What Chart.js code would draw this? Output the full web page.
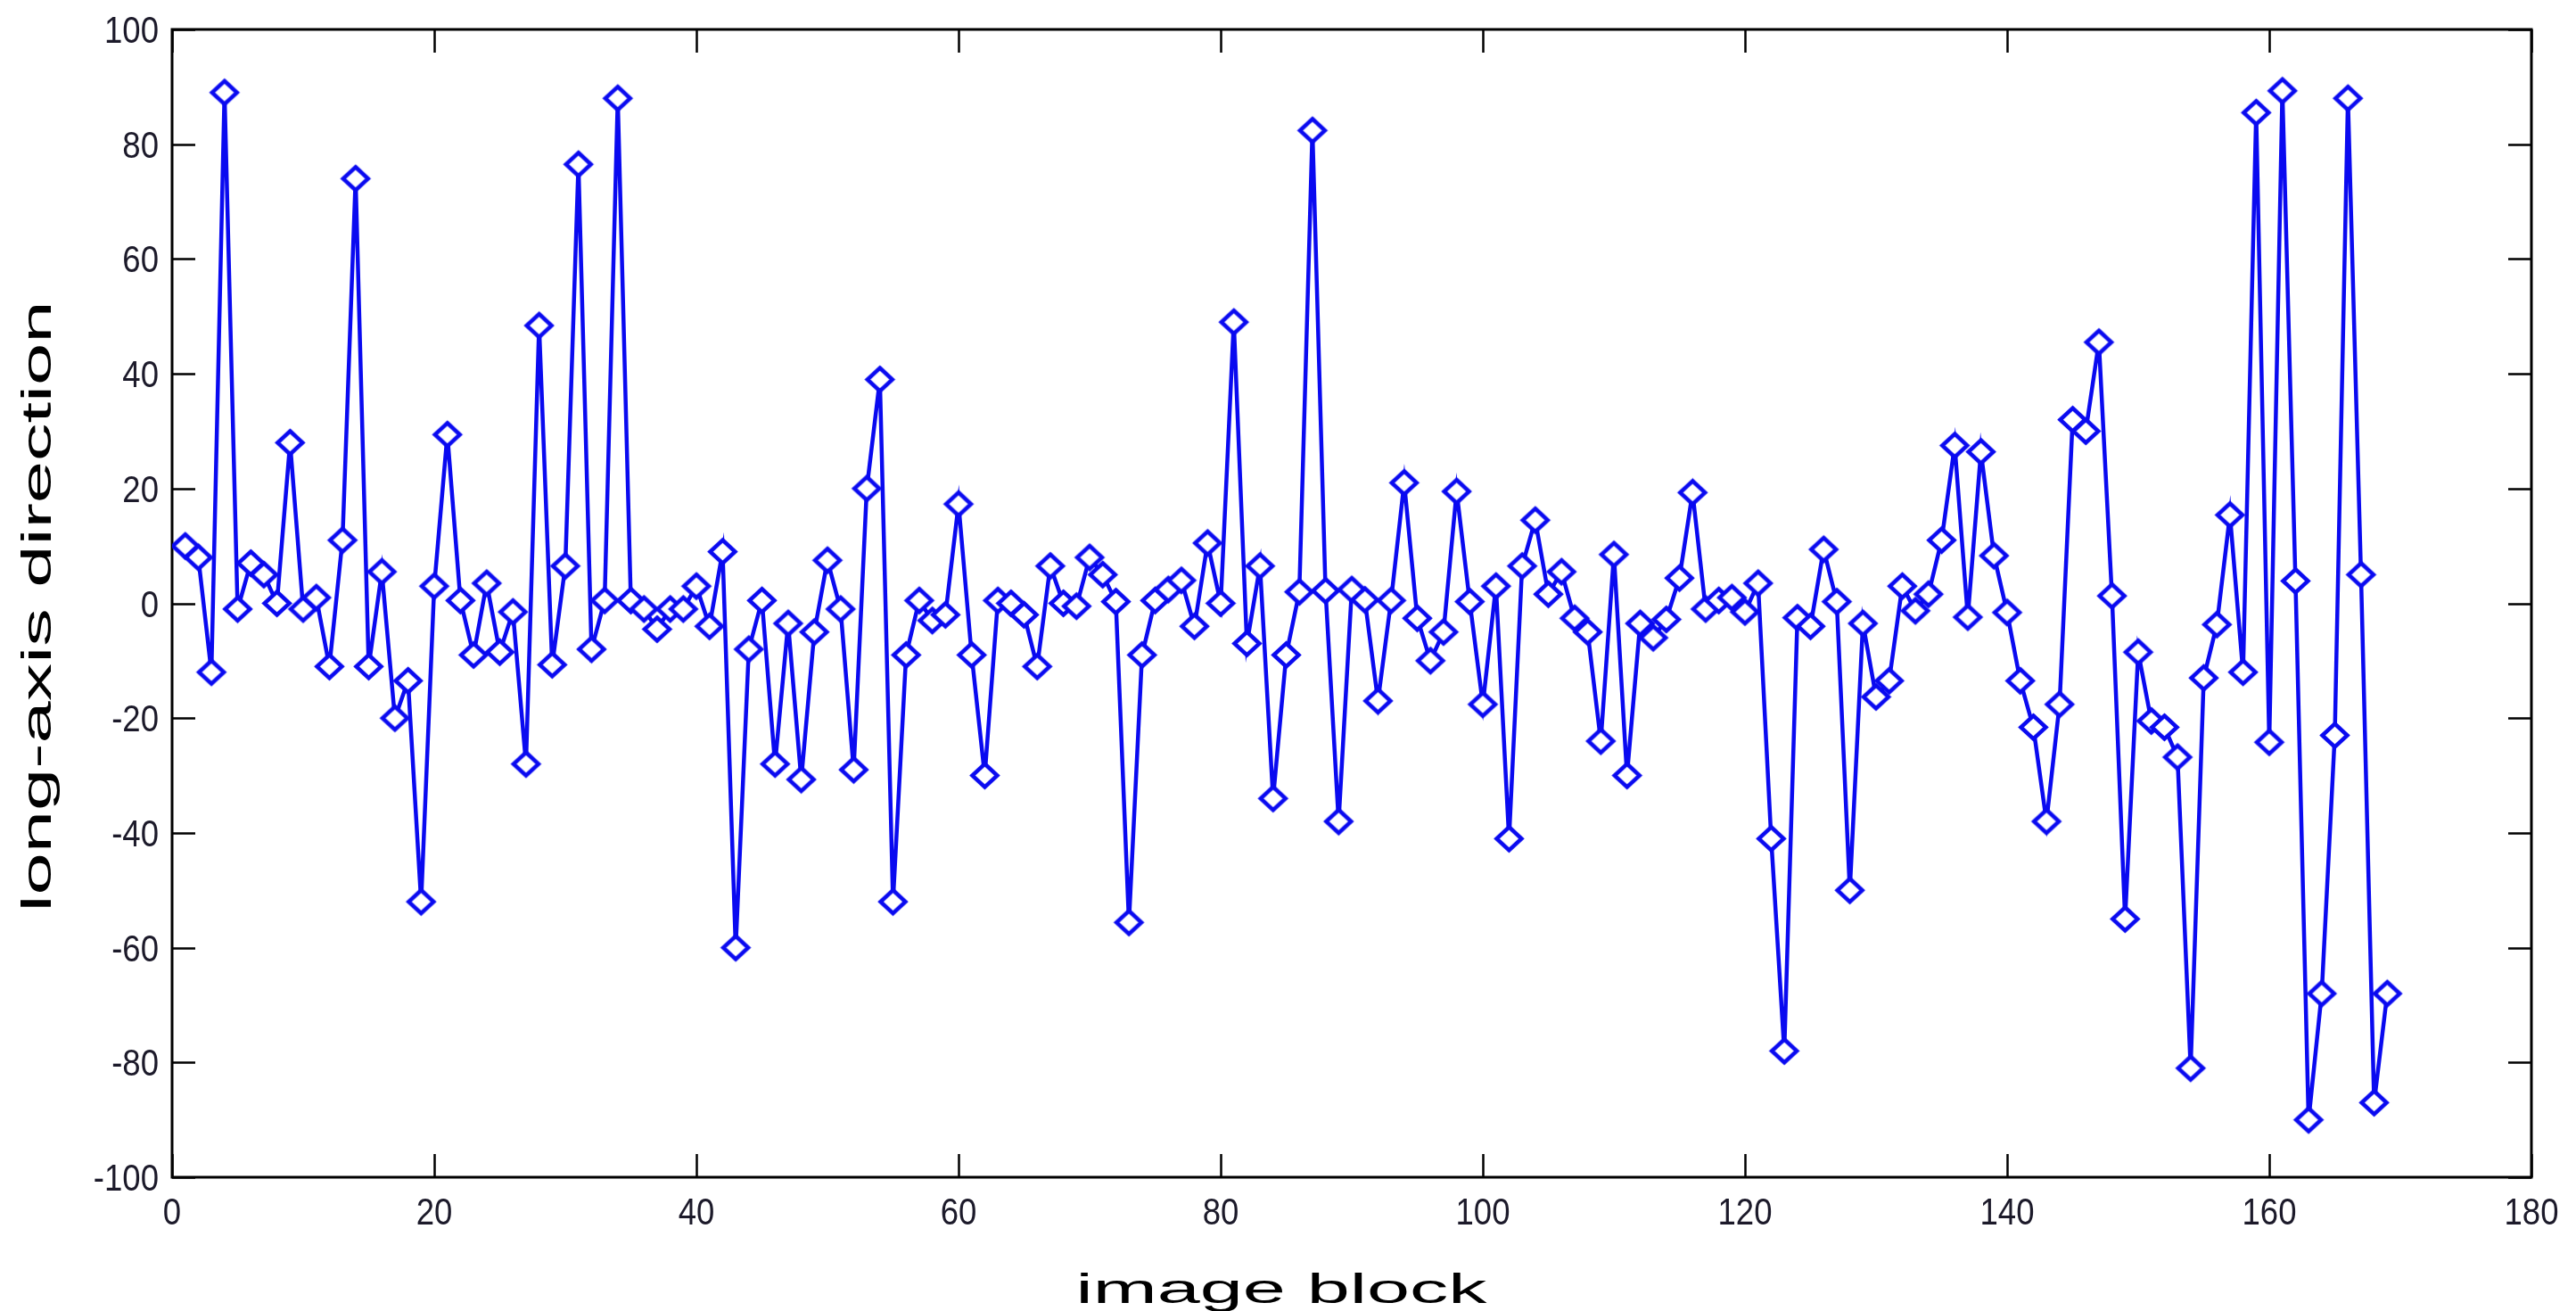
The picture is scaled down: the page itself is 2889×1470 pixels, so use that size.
<!DOCTYPE html>
<html><head><meta charset="utf-8">
<script src="https://cdn.jsdelivr.net/npm/chart.js@4.4.1/dist/chart.umd.min.js"></script>
<style>html,body{margin:0;padding:0;background:#fff;overflow:hidden}#wrap{width:2889px;height:1470px}</style>
</head><body><div id="wrap"><canvas id="c" width="2889" height="1470"></canvas></div>
<script>
// ---- data ----
const blockValues = [
  10, 8, -12, 89, -1, 7, 5, 0, 28, -1,
  1, -11, 11, 74, -11, 5.5, -20, -13.5, -52, 3,
  29.4, 0.5, -9, 3.5, -8.5, -1.5, -28, 48.4, -10.7, 6.5,
  76.5, -8, 0.5, 88, 0.5, -1, -4.5, -1, -1, 3,
  -4, 9, -60, -8, 0.5, -28, -3.5, -30.7, -5, 7.5,
  -1, -29, 20, 39, -52, -9, 0.5, -3, -2, 17.3,
  -9, -30, 0.5, 0, -2, -11, 6.5, 0, -0.5, 8,
  5, 0.3, -55.6, -9, 0.5, 2.4, 4, -4, 10.5, 0,
  49, -7, 6.5, -34, -9, 2, 82.4, 2.2, -38, 2.4,
  0.6, -17, 0.5, 21, -2.6, -10, -5, 19.5, 0.3, -17.6,
  3, -41, 6.5, 14.5, 1.6, 5.5, -2.6, -5, -24, 8.5,
  -30, -3.5, -6, -2.8, 4.4, 19.3, -1, 0.5, 1, -1.5,
  3.5, -41, -78, -2.5, -4, 9.4, 0.3, -50, -3.5, -16.3,
  -13.5, 3, -1.3, 1.6, 11, 27.5, -2.4, 26.4, 8.3, -1.6,
  -13.5, -21.6, -38, -17.6, 32, 30, 45.5, 1.3, -55, -8.5,
  -20.5, -21.6, -26.8, -81, -13, -3.7, 15.4, -12, 85.5, -24.2,
  89.3, 3.9, -90, -68, -23, 88, 5, -87, -68
];
const blockIndex = blockValues.map((_, i) => i + 1);   // image block numbers 1..169
const xTickValues = [0, 20, 40, 60, 80, 100, 120, 140, 160, 180];
const yTickValues = [-100, -80, -60, -40, -20, 0, 20, 40, 60, 80, 100];
const xTitleText = 'image block';
const yTitleText = 'long-axis direction';

// ---- styling ----
const BLUE = 'rgb(10,10,240)';
const TICK_COLOR = '#1c1a2a';
const TICK_FONT = '42px "Liberation Sans", Arial, sans-serif';
const TICK_SQUEEZE = 0.87;   // reference tick digits are narrow

function makeDiamond(w, h, lw, stroke) {
  const c = document.createElement('canvas');
  c.width = Math.ceil(w + lw * 2); c.height = Math.ceil(h + lw * 2);
  const g = c.getContext('2d');
  const cx = c.width / 2, cy = c.height / 2;
  g.beginPath();
  g.moveTo(cx, cy - h / 2); g.lineTo(cx + w / 2, cy);
  g.lineTo(cx, cy + h / 2); g.lineTo(cx - w / 2, cy); g.closePath();
  g.fillStyle = '#fff'; g.fill();
  g.lineWidth = lw; g.strokeStyle = stroke; g.lineJoin = 'miter'; g.stroke();
  return c;
}
const diamond = makeDiamond(28, 26, 4.5, BLUE);

const frame = {
  id: 'matlabFrame',
  beforeDatasetsDraw(chart) {
    const {ctx, chartArea: a, scales: {x, y}} = chart;
    ctx.save();
    ctx.strokeStyle = '#000';
    ctx.lineWidth = 2.5;
    const tl = 26;
    ctx.beginPath();
    x.ticks.forEach(t => {
      const px = Math.round(x.getPixelForValue(t.value)) + 0.5;
      ctx.moveTo(px, a.bottom); ctx.lineTo(px, a.bottom - tl);
      ctx.moveTo(px, a.top); ctx.lineTo(px, a.top + tl);
    });
    y.ticks.forEach(t => {
      const py = Math.round(y.getPixelForValue(t.value)) + 0.5;
      ctx.moveTo(a.left, py); ctx.lineTo(a.left + tl, py);
      ctx.moveTo(a.right, py); ctx.lineTo(a.right - tl, py);
    });
    ctx.stroke();
    ctx.lineWidth = 3;
    ctx.strokeRect(a.left, a.top, a.right - a.left, a.bottom - a.top);

    // tick labels (drawn from the scales' own ticks, slightly condensed)
    ctx.fillStyle = TICK_COLOR;
    ctx.font = TICK_FONT;
    ctx.textBaseline = 'alphabetic';
    x.ticks.forEach(t => {
      const px = x.getPixelForValue(t.value);
      ctx.save();
      ctx.translate(px, a.bottom + 53);
      ctx.scale(TICK_SQUEEZE, 1);
      ctx.textAlign = 'center';
      ctx.fillText(t.label ?? String(t.value), 0, 0);
      ctx.restore();
    });
    y.ticks.forEach(t => {
      const py = y.getPixelForValue(t.value);
      ctx.save();
      ctx.translate(a.left - 15, py + 15);
      ctx.scale(TICK_SQUEEZE, 1);
      ctx.textAlign = 'right';
      ctx.fillText(t.label ?? String(t.value), 0, 0);
      ctx.restore();
    });
    ctx.restore();
  },
  afterDraw(chart) {
    const {ctx} = chart;
    ctx.save();
    ctx.fillStyle = '#000';
    ctx.font = '46px "Liberation Sans", Arial, sans-serif';
    ctx.textAlign = 'center';
    ctx.textBaseline = 'middle';
    // x title (stretched horizontally as in the reference)
    let w = ctx.measureText(xTitleText).width;
    ctx.save();
    ctx.translate(1437, 1448);
    ctx.scale(461 / w, 1);
    ctx.fillText(xTitleText, 0, 0);
    ctx.restore();
    // y title (rotated and stretched along its length)
    w = ctx.measureText(yTitleText).width;
    ctx.save();
    ctx.translate(44, 680);
    ctx.rotate(-Math.PI / 2);
    ctx.scale(685 / w, 1);
    ctx.fillText(yTitleText, 0, 0);
    ctx.restore();
    ctx.restore();
  }
};

new Chart(document.getElementById('c'), {
  type: 'line',
  data: {
    datasets: [{
      data: blockIndex.map((b, i) => ({x: b, y: blockValues[i]})),
      borderColor: BLUE,
      borderWidth: 4.5,
      pointStyle: diamond,
      pointRadius: 14,
      pointHoverRadius: 14,
      tension: 0,
      fill: false
    }]
  },
  options: {
    responsive: false,
    devicePixelRatio: 1,
    animation: false,
    layout: {padding: {left: 0, right: 50, top: 33, bottom: 0}},
    plugins: {legend: {display: false}, tooltip: {enabled: false}},
    scales: {
      x: {
        type: 'linear', min: 0, max: 180,
        afterBuildTicks: s => { s.ticks = xTickValues.map(v => ({value: v})); },
        afterFit: s => { s.height = 150; },
        grid: {display: false, drawTicks: false},
        border: {display: false},
        ticks: {display: false, autoSkip: false}
      },
      y: {
        type: 'linear', min: -100, max: 100,
        afterBuildTicks: s => { s.ticks = yTickValues.map(v => ({value: v})); },
        afterFit: s => { s.width = 193; },
        grid: {display: false, drawTicks: false},
        border: {display: false},
        ticks: {display: false, autoSkip: false}
      }
    }
  },
  plugins: [frame]
});
</script>
</body></html>
